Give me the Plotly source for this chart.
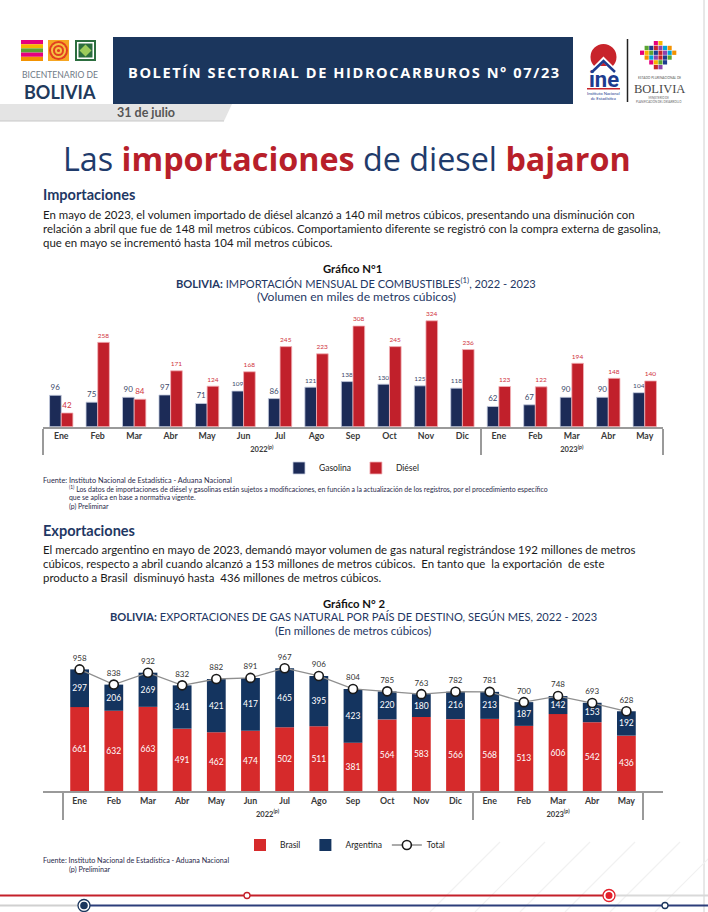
import plotly.graph_objects as go

# ---------------- DATA ----------------
months = ["Ene", "Feb", "Mar", "Abr", "May", "Jun", "Jul", "Ago", "Sep", "Oct", "Nov", "Dic",
          "Ene", "Feb", "Mar", "Abr", "May"]
year_labels = ["<span style='font-size:7.5px'>2022<sup>(p)</sup></span>"] * 12 + \
              ["<span style='font-size:7.5px'>2023<sup>(p)</sup></span>"] * 5

gasolina = [96, 75, 90, 97, 71, 109, 86, 121, 138, 130, 125, 118, 62, 67, 90, 90, 104]
diesel = [42, 258, 84, 171, 124, 168, 245, 223, 308, 245, 324, 236, 123, 122, 194, 148, 140]

brasil = [661, 632, 663, 491, 462, 474, 502, 511, 381, 564, 583, 566, 568, 513, 606, 542, 436]
argentina = [297, 206, 269, 341, 421, 417, 465, 395, 423, 220, 180, 216, 213, 187, 142, 153, 192]
total = [958, 838, 932, 832, 882, 891, 967, 906, 804, 785, 763, 782, 781, 700, 748, 693, 628]

# ---------------- HELPERS ----------------
W, H = 708, 912
FONT = "Lato"
NAVY = "#1f3864"


def X(px):
    return px / W


def Y(py):
    return 1 - py / H


annotations = []
shapes = []


def txt(x, y, s, size, color="#222222", bold=False, xanchor="left", family=FONT, yanchor="middle"):
    annotations.append(dict(x=X(x), y=Y(y), xref="paper", yref="paper", text=s, showarrow=False,
                            xanchor=xanchor, yanchor=yanchor, borderpad=0,
                            font=dict(size=size, color=color, family=family,
                                      weight="bold" if bold else "normal")))


def rect(x0, y0, x1, y1, color, line=None):
    shapes.append(dict(type="rect", xref="paper", yref="paper", x0=X(x0), x1=X(x1), y0=Y(y1), y1=Y(y0),
                       fillcolor=color, line=dict(width=0) if line is None else line, layer="above"))


def circ(cx, cy, r, fill, lc=None, lw=0):
    shapes.append(dict(type="circle", xref="paper", yref="paper", x0=X(cx - r), x1=X(cx + r),
                       y0=Y(cy + r), y1=Y(cy - r), fillcolor=fill,
                       line=dict(width=lw, color=lc or fill), layer="above"))


def path(points, fill=None, lc=None, lw=0, close=True):
    d = "M " + " L ".join(f"{X(px):.5f},{Y(py):.5f}" for px, py in points) + (" Z" if close else "")
    shapes.append(dict(type="path", xref="paper", yref="paper", path=d,
                       fillcolor=fill if fill else "rgba(0,0,0,0)",
                       line=dict(width=lw, color=lc or "rgba(0,0,0,0)"), layer="above"))


def hline(x0, x1, y, color, w):
    shapes.append(dict(type="line", xref="paper", yref="paper", x0=X(x0), x1=X(x1), y0=Y(y), y1=Y(y),
                       line=dict(color=color, width=w), layer="above"))


def vline(x, y0, y1, color, w):
    shapes.append(dict(type="line", xref="paper", yref="paper", x0=X(x), x1=X(x), y0=Y(y0), y1=Y(y1),
                       line=dict(color=color, width=w), layer="above"))


# ---------------- HEADER ----------------
# left logo (Bicentenario)
stripe_cols = ["#e6007e", "#f7b500", "#5aa532", "#e6007e", "#f39200"]
for i, c in enumerate(stripe_cols):
    rect(21, 40 + i * 4.2, 43, 40 + (i + 1) * 4.2, c)
rect(48, 40, 69, 61, "#f6a623")
for r, c in [(9.5, "#e2401f"), (7.5, "#f6c343"), (5.5, "#e2401f"), (3.5, "#f6c343"), (1.6, "#e2401f")]:
    circ(58.5, 50.5, r, c)
rect(75, 40, 96, 61, "#2c6e3f")
rect(77, 42, 94, 59, "#ffffff")
rect(78.5, 43.5, 92.5, 57.5, "#2c6e3f")
path([(85.5, 44.5), (91.5, 50.5), (85.5, 56.5), (79.5, 50.5)], fill="#9ccb5b")
txt(59.5, 81.5, "BICENTENARIO DE", 8.6, "#6f7a86", xanchor="center", yanchor="bottom")
txt(59.5, 80.5, "BOLIVIA", 18, "#1f3a5c", bold=True, xanchor="center", yanchor="top")

# banner
rect(113, 37, 573, 104, "#1b365d")
txt(344, 72, "<span style='letter-spacing:1.6px'>BOLETÍN SECTORIAL DE HIDROCARBUROS N° 07/23</span>",
    14.6, "#ffffff", bold=True, xanchor="center", family="Open Sans")

# ine logo
circ(603.5, 57, 13, "#c8242b")
path([(590, 70), (603.5, 56.5), (617, 70), (611, 70), (603.5, 62.5), (596, 70)], fill="#ffffff")
rect(589, 66, 618, 72, "#ffffff")
path([(592, 72), (603.5, 61), (615, 72)], lc="#1d3c8f", lw=2.5, close=False)
txt(603.5, 79, "ine", 22, "#1d3c8f", bold=True, family="Roboto", xanchor="center")
rect(587, 88, 620, 89.5, "#c8242b")
txt(603.5, 96, "Instituto Nacional<br>de Estadística", 4.2, "#1d3c8f", xanchor="center")
vline(627.5, 39, 102, "#222222", 1.5)

# Estado Plurinacional logo mosaic
mosaic = [
    "...ab...",
    ".cdefgh.",
    "abcdefgh",
    ".hgfedc.",
    "..abcd..",
    "...ef...",
]
mcol = {"a": "#e6007e", "b": "#f7b500", "c": "#5aa532", "d": "#1d3c8f", "e": "#c8242b",
        "f": "#8e44ad", "g": "#00a3d9", "h": "#f39200"}
for r_i, row in enumerate(mosaic):
    for c_i, ch in enumerate(row):
        if ch != ".":
            x0 = 640 + c_i * 4.6
            y0 = 41 + r_i * 4.8
            rect(x0, y0, x0 + 4.1, y0 + 4.3, mcol[ch])
txt(659, 78.3, "ESTADO PLURINACIONAL DE", 3.2, "#555555", xanchor="center")
txt(659, 88.6, "BOLIVIA", 12.5, "#4a4a4a", xanchor="center", family="Liberation Serif")
txt(659, 99.9, "MINISTERIO DE<br>PLANIFICACIÓN DEL DESARROLLO", 2.8, "#666666", xanchor="center")

# date tab
path([(0, 104), (232, 104), (224, 121), (0, 121)], fill="#e4e4e4")
hline(0, 224, 121, "#c8c8c8", 1.2)
txt(116, 112.5, "31 de julio", 12.5, "#555555", bold=True)

# right border line
vline(704, 0, 912, "#d0d0d0", 1)

# ---------------- TITLE & TEXT ----------------
title_html = ("<span style='color:#1f3b6b'>Las </span>"
              "<span style='color:#b81f2a;font-weight:bold'>importaciones</span>"
              "<span style='color:#1f3b6b'> de diesel </span>"
              "<span style='color:#b81f2a;font-weight:bold'>bajaron</span>")
txt(347, 158, title_html, 32.3, family="Open Sans", xanchor="center")

txt(42, 195, "Importaciones", 14.5, NAVY, bold=True)
p1 = ["En mayo de 2023, el volumen importado de diésel alcanzó a 140 mil metros cúbicos, presentando una disminución con",
      "relación a abril que fue de 148 mil metros cúbicos. Comportamiento diferente se registró con la compra externa de gasolina,",
      "que en mayo se incrementó hasta 104 mil metros cúbicos."]
for i, line in enumerate(p1):
    txt(42, 214 + i * 14, line, 11.45, "#1a1a1a")

txt(352, 268.5, "Gráfico N°1", 11.3, "#111111", bold=True, xanchor="center")
txt(356, 283, "<b>BOLIVIA:</b> IMPORTACIÓN MENSUAL DE COMBUSTIBLES<sup>(1)</sup>, 2022 - 2023", 11.1, NAVY,
    xanchor="center")
txt(356, 297, "(Volumen en miles de metros cúbicos)", 12.1, NAVY, xanchor="center")

txt(42, 480, "Fuente: Instituto Nacional de Estadística - Aduana Nacional", 7.3, "#2a2a4a")
txt(68, 489, "<sup>(1)</sup> Los datos de importaciones de diésel y gasolinas están sujetos a modificaciones, "
             "en función a la actualización de los registros, por el procedimiento específico", 6.9, "#2a2a4a")
txt(68, 497, "que se aplica en base a normativa vigente.", 6.9, "#2a2a4a")
txt(68, 506, "(p) Preliminar", 6.9, "#2a2a4a")

txt(42, 530, "Exportaciones", 14.5, NAVY, bold=True)
p2 = ["El mercado argentino en mayo de 2023, demandó mayor volumen de gas natural registrándose 192 millones de metros",
      "cúbicos, respecto a abril cuando alcanzó a 153 millones de metros cúbicos.  En tanto que  la exportación  de este",
      "producto a Brasil  disminuyó hasta  436 millones de metros cúbicos."]
for i, line in enumerate(p2):
    txt(42, 549 + i * 14, line, 11.45, "#1a1a1a")

txt(354, 603, "Gráfico N° 2", 11.3, "#111111", bold=True, xanchor="center")
txt(353, 616.5, "<b>BOLIVIA:</b> EXPORTACIONES DE GAS NATURAL POR PAÍS DE DESTINO, SEGÚN MES, 2022 - 2023", 11.1,
    NAVY, xanchor="center")
txt(353, 630.5, "(En millones de metros cúbicos)", 11.4, NAVY, xanchor="center")

txt(42, 860, "Fuente: Instituto Nacional de Estadística - Aduana Nacional", 7.2, "#2a2a4a")
txt(68, 869, "(p) Preliminar", 7.2, "#2a2a4a")

# ---------------- FOOTER DECORATION ----------------
for k in range(6):
    path([(430 + k * 45, 912), (500 + k * 45, 842)], lc="#f1f1f1", lw=1.2, close=False)
hline(0, 608, 895.5, "#c4202a", 2.2)
hline(608, 708, 895.5, "#d9d9d9", 2.2)
circ(247, 895.5, 3, "#ffffff", "#c4202a", 1.3)
circ(609, 895.5, 6, "#ffffff", "#e3202b", 1.3)
circ(609, 895.5, 3.5, "#e3202b")
hline(0, 84, 905.5, "#d0d0d0", 2)
hline(84, 708, 905.5, "#2c3e7a", 2.2)
circ(84, 905.5, 6, "#ffffff", "#1b365d", 1.3)
circ(84, 905.5, 3.8, "#1b365d")
circ(665, 905.5, 3, "#ffffff", "#1b365d", 1.3)

# ---------------- CHARTS ----------------
xcat = [year_labels, months]

fig = go.Figure()

# Chart 1 - grouped bars (explicit offsets)
fig.add_trace(go.Bar(x=xcat, y=gasolina, name="Gasolina", xaxis="x", yaxis="y",
                     width=0.32, offset=-0.32,
                     marker=dict(color="#1c2b57", line=dict(color="#c6cde0", width=0.8)),
                     text=gasolina, textposition="outside", cliponaxis=False,
                     outsidetextfont=dict(size=8, color="#3d4a6a", family=FONT),
                     legend="legend", hoverinfo="skip"))
fig.add_trace(go.Bar(x=xcat, y=diesel, name="Diésel", xaxis="x", yaxis="y",
                     width=0.32, offset=0.0,
                     marker=dict(color="#c1202b", line=dict(color="#f2b3b8", width=0.8)),
                     text=diesel, textposition="outside", cliponaxis=False,
                     outsidetextfont=dict(size=8, color="#d0343e", family=FONT),
                     legend="legend", hoverinfo="skip"))

# Chart 2 - stacked bars via base
fig.add_trace(go.Bar(x=xcat, y=brasil, name="Brasil", xaxis="x2", yaxis="y2", width=0.55,
                     marker=dict(color="#d62a2b", line=dict(width=0)),
                     text=brasil, textposition="inside", insidetextanchor="middle", constraintext="none",
                     textangle=0, insidetextfont=dict(size=8.5, color="#ffffff", family=FONT),
                     legend="legend2", hoverinfo="skip"))
fig.add_trace(go.Bar(x=xcat, y=argentina, base=brasil, name="Argentina", xaxis="x2", yaxis="y2", width=0.55,
                     marker=dict(color="#14345f", line=dict(width=0)),
                     text=argentina, textposition="inside", insidetextanchor="middle", constraintext="none",
                     textangle=0, insidetextfont=dict(size=8.5, color="#ffffff", family=FONT),
                     legend="legend2", hoverinfo="skip"))
fig.add_trace(go.Scatter(x=xcat, y=total, name="Total", xaxis="x2", yaxis="y2",
                         mode="lines+markers+text", text=total, textposition="top center",
                         textfont=dict(size=8, color="#333333", family=FONT),
                         line=dict(color="#8f8f8f", width=1.3),
                         marker=dict(size=9, color="#ffffff", line=dict(color="#1a1a1a", width=1.6)),
                         cliponaxis=False, legend="legend2", hoverinfo="skip"))

xaxis_common = dict(type="multicategory", showline=True, linecolor="#9a9a9a", linewidth=2,
                    showdividers=True, dividercolor="#9a9a9a", dividerwidth=1.5,
                    tickfont=dict(size=8.8, color="#3a3a3a", family=FONT, weight="bold"),
                    showgrid=False, zeroline=False, ticks="", fixedrange=True)

fig.update_layout(
    width=W, height=H, margin=dict(l=0, r=0, t=0, b=0),
    paper_bgcolor="#ffffff", plot_bgcolor="rgba(0,0,0,0)",
    barmode="overlay",
    font=dict(family=FONT, color="#222222"),
    xaxis=dict(domain=[X(43), X(663)], anchor="y", **xaxis_common),
    yaxis=dict(domain=[Y(426.7), Y(310)], range=[0, 357], visible=False, fixedrange=True),
    xaxis2=dict(domain=[X(43), X(663)], anchor="y2", **xaxis_common),
    yaxis2=dict(domain=[Y(791), Y(645)], range=[0, 1150], visible=False, fixedrange=True),
    legend=dict(orientation="h", x=X(352), y=Y(468), xanchor="center", yanchor="middle",
                font=dict(size=8.5, color="#222222", family=FONT), itemwidth=30,
                bgcolor="rgba(0,0,0,0)", traceorder="normal"),
    legend2=dict(orientation="h", x=X(345), y=Y(845), xanchor="center", yanchor="middle",
                 font=dict(size=8.5, color="#222222", family=FONT), itemwidth=30,
                 bgcolor="rgba(0,0,0,0)", traceorder="normal"),
    annotations=annotations,
    shapes=shapes,
    showlegend=True,
)

fig.write_html("out.html", config={"displayModeBar": False},
               post_script="document.body.style.margin='0';document.body.style.padding='0';"
                           "document.body.style.overflow='hidden';")
